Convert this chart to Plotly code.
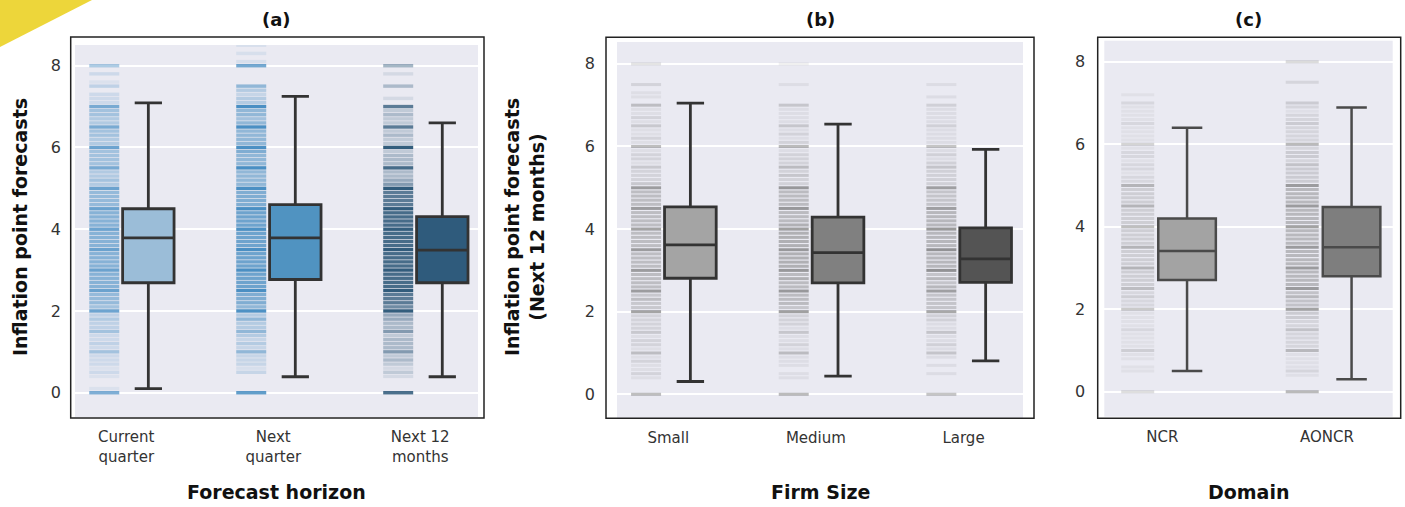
import plotly.graph_objects as go

W, H = 1405, 507

# ---------------- data ----------------
HORIZONS = ["Current<br>quarter", "Next<br>quarter", "Next 12<br>months"]
SIZES = ["Small", "Medium", "Large"]
DOMAINS = ["NCR", "AONCR"]
Y_TICKS = [0, 2, 4, 6, 8]

# box statistics
H_LOWER = [0.10, 0.39, 0.39]
H_Q1 = [2.69, 2.77, 2.69]
H_MED = [3.79, 3.79, 3.49]
H_Q3 = [4.50, 4.60, 4.31]
H_UPPER = [7.09, 7.25, 6.60]

S_LOWER = [0.31, 0.44, 0.81]
S_Q1 = [2.81, 2.70, 2.71]
S_MED = [3.62, 3.43, 3.28]
S_Q3 = [4.54, 4.29, 4.03]
S_UPPER = [7.05, 6.54, 5.93]

D_LOWER = [0.50, 0.30]
D_Q1 = [2.71, 2.80]
D_MED = [3.41, 3.50]
D_Q3 = [4.20, 4.48]
D_UPPER = [6.40, 6.89]

# forecast levels (percent) and how densely each level is populated (0-9)
LEVELS = [
    0.0, 0.1, 0.2, 0.3, 0.4, 0.5, 0.6, 0.7, 0.8, 0.9,
    1.0, 1.1, 1.2, 1.3, 1.4, 1.5, 1.6, 1.7, 1.8, 1.9,
    2.0, 2.1, 2.2, 2.3, 2.4, 2.5, 2.6, 2.7, 2.8, 2.9,
    3.0, 3.1, 3.2, 3.3, 3.4, 3.5, 3.6, 3.7, 3.8, 3.9,
    4.0, 4.1, 4.2, 4.3, 4.4, 4.5, 4.6, 4.7, 4.8, 4.9,
    5.0, 5.1, 5.2, 5.3, 5.4, 5.5, 5.6, 5.7, 5.8, 5.9,
    6.0, 6.1, 6.2, 6.3, 6.4, 6.5, 6.6, 6.7, 6.8, 6.9,
    7.0, 7.1, 7.2, 7.3, 7.4, 7.5, 7.6, 7.7, 7.8, 7.9,
    8.0, 8.1, 8.2, 8.3, 8.4, 8.5,
]
DENS_CUR = [
    8, 1, 0, 0, 1, 2, 1, 2, 2, 2,
    5, 2, 3, 2, 2, 5, 3, 3, 4, 3,
    9, 5, 6, 6, 6, 9, 7, 7, 7, 7,
    9, 7, 7, 7, 7, 9, 7, 7, 7, 7,
    9, 7, 7, 7, 7, 9, 6, 6, 6, 6,
    9, 4, 5, 4, 4, 8, 5, 5, 5, 5,
    9, 4, 4, 5, 5, 8, 4, 4, 5, 5,
    8, 2, 2, 2, 0, 3, 1, 0, 2, 0,
    5, 0, 0, 0, 0, 0,
]
DENS_NXQ = [
    8, 0, 0, 0, 0, 2, 1, 2, 2, 2,
    5, 2, 3, 2, 3, 5, 3, 3, 5, 3,
    9, 5, 6, 6, 6, 9, 7, 7, 7, 7,
    9, 7, 7, 7, 7, 9, 7, 7, 7, 7,
    9, 7, 7, 7, 7, 9, 6, 6, 6, 6,
    9, 5, 5, 5, 5, 9, 5, 5, 5, 6,
    9, 5, 5, 5, 5, 9, 5, 4, 5, 5,
    9, 3, 3, 2, 3, 5, 0, 0, 0, 0,
    7, 1, 0, 1, 0, 1,
]
DENS_N12 = [
    8, 0, 0, 0, 1, 2, 1, 2, 3, 2,
    5, 3, 3, 3, 2, 5, 3, 3, 4, 4,
    9, 6, 7, 7, 7, 9, 8, 8, 8, 8,
    9, 8, 8, 8, 8, 9, 8, 8, 8, 8,
    9, 8, 8, 8, 8, 9, 7, 7, 7, 7,
    9, 5, 4, 3, 3, 8, 3, 3, 3, 2,
    9, 2, 2, 3, 2, 7, 2, 2, 3, 2,
    7, 0, 1, 0, 0, 3, 0, 0, 1, 0,
    4, 0, 0, 0, 0, 0,
]
DENS_SMALL = [
    5, 0, 0, 0, 1, 2, 1, 1, 2, 1,
    4, 1, 2, 2, 1, 3, 2, 2, 2, 2,
    7, 3, 3, 4, 3, 7, 4, 4, 4, 4,
    7, 4, 4, 4, 4, 7, 4, 4, 4, 4,
    7, 4, 4, 4, 4, 7, 4, 4, 4, 4,
    7, 3, 2, 2, 2, 3, 1, 2, 2, 1,
    5, 1, 2, 1, 1, 3, 1, 2, 1, 1,
    4, 0, 1, 1, 0, 2, 0, 0, 0, 0,
    2, 0, 0, 0, 0, 0,
]
DENS_MEDIUM = [
    5, 0, 0, 0, 1, 1, 0, 1, 1, 1,
    4, 1, 2, 1, 1, 3, 1, 2, 2, 2,
    7, 3, 4, 4, 4, 7, 4, 4, 5, 4,
    7, 5, 5, 5, 5, 7, 5, 5, 5, 5,
    7, 5, 4, 4, 4, 7, 4, 4, 4, 4,
    7, 2, 2, 3, 2, 4, 2, 2, 2, 1,
    5, 2, 1, 2, 1, 3, 1, 1, 1, 1,
    3, 0, 0, 0, 0, 1, 0, 0, 0, 0,
    1, 0, 0, 0, 0, 0,
]
DENS_LARGE = [
    4, 0, 0, 0, 0, 1, 0, 1, 0, 1,
    3, 1, 2, 1, 1, 3, 1, 1, 2, 2,
    6, 3, 3, 3, 3, 6, 4, 3, 4, 3,
    7, 4, 4, 4, 4, 7, 4, 4, 4, 4,
    7, 4, 4, 4, 4, 6, 3, 3, 3, 3,
    6, 2, 2, 2, 2, 3, 2, 1, 2, 1,
    4, 1, 1, 1, 1, 2, 1, 1, 1, 1,
    2, 0, 1, 0, 0, 1, 0, 0, 0, 0,
    0, 0, 0, 0, 0, 0,
]
DENS_NCR = [
    3, 0, 0, 0, 0, 1, 1, 0, 1, 1,
    3, 1, 1, 1, 1, 2, 1, 1, 1, 1,
    5, 2, 2, 3, 2, 5, 3, 3, 3, 3,
    6, 3, 3, 3, 3, 6, 3, 3, 3, 3,
    6, 3, 3, 3, 3, 6, 3, 3, 3, 3,
    6, 2, 2, 1, 2, 2, 1, 2, 2, 1,
    4, 1, 1, 1, 1, 2, 1, 1, 1, 1,
    2, 0, 1, 0, 0, 0, 0, 0, 0, 0,
    0, 0, 0, 0, 0, 0,
]
DENS_AONCR = [
    6, 0, 0, 0, 1, 2, 1, 1, 1, 1,
    5, 2, 2, 2, 2, 4, 2, 2, 3, 3,
    8, 4, 4, 5, 4, 8, 5, 5, 5, 5,
    8, 5, 5, 5, 5, 8, 5, 5, 5, 5,
    8, 5, 5, 5, 5, 8, 5, 5, 5, 5,
    8, 3, 3, 3, 3, 4, 2, 3, 3, 2,
    6, 2, 2, 2, 2, 3, 2, 2, 1, 2,
    3, 0, 0, 0, 0, 2, 0, 0, 0, 0,
    3, 0, 0, 0, 0, 0,
]

# ---------------- style ----------------
FONT = "DejaVu Sans"
BG = "#EAEAF2"
STRIP_OFF = -0.15
BOX_OFF = 0.15
BOX_W = 0.35
LINE_EW_SCALE = 1.4  # plotly's line-ew symbol is 1.4 x marker size long

PANELS = [
    dict(cats=HORIZONS, lower=H_LOWER, q1=H_Q1, med=H_MED, q3=H_Q3, upper=H_UPPER,
         dens=[DENS_CUR, DENS_NXQ, DENS_N12],
         box_colors=["#9BBDD8", "#5093C1", "#2F5B7C"],
         strip_colors=["#5E9BCB", "#3A86BE", "#1F4D70"],
         strip_alpha=0.9, strip_w=30, strip_lw=3.4, edge="#333333", lw=2.8,
         px=(75, 478), py=(45, 417), yr=(-0.594, 8.506), xr=(-0.349, 2.393),
         standoff=13, title="(a)", xtitle="Forecast horizon"),
    dict(cats=SIZES, lower=S_LOWER, q1=S_Q1, med=S_MED, q3=S_Q3, upper=S_UPPER,
         dens=[DENS_SMALL, DENS_MEDIUM, DENS_LARGE],
         box_colors=["#A4A4A4", "#808080", "#545454"],
         strip_colors=["#6E6E6E", "#686868", "#5E5E5E"],
         strip_alpha=0.8, strip_w=30, strip_lw=3.0, edge="#333333", lw=2.8,
         px=(617, 1023), py=(42, 418), yr=(-0.574, 8.53), xr=(-0.347, 2.403),
         standoff=21, title="(b)", xtitle="Firm Size"),
    dict(cats=DOMAINS, lower=D_LOWER, q1=D_Q1, med=D_MED, q3=D_Q3, upper=D_UPPER,
         dens=[DENS_NCR, DENS_AONCR],
         box_colors=["#A3A3A3", "#7E7E7E"],
         strip_colors=["#787878", "#6C6C6C"],
         strip_alpha=0.7, strip_w=33, strip_lw=3.0, edge="#4A4A4A", lw=2.5,
         px=(1104.3, 1392.7), py=(40.7, 416.7), yr=(-0.606, 8.51), xr=(-0.353, 1.40),
         standoff=18, title="(c)", xtitle="Domain"),
]
FRAMES = [(70.7, 484, 37, 418), (606, 1034, 37.3, 418.3), (1097.7, 1400.7, 37.3, 418.3)]


def fx(px):
    return px / W


def fy(py):
    return (H - py) / H


fig = go.Figure()
layout = dict(
    width=W, height=H, margin=dict(l=0, r=0, t=0, b=0),
    paper_bgcolor="white", plot_bgcolor=BG, showlegend=False,
    font=dict(family=FONT, color="#333333"),
)
annotations = []
shapes = []

for k, p in enumerate(PANELS):
    sfx = "" if k == 0 else str(k + 1)
    xa, ya = "x" + sfx, "y" + sfx
    n = len(p["cats"])
    for i in range(n):
        # strip of individual forecasts
        dens = p["dens"][i]
        keep = [j for j, d in enumerate(dens) if d > 0]
        fig.add_trace(go.Scatter(
            x=[i + STRIP_OFF] * len(keep),
            y=[LEVELS[j] for j in keep],
            mode="markers", xaxis=xa, yaxis=ya, hoverinfo="skip",
            marker=dict(symbol="line-ew", size=p["strip_w"] / LINE_EW_SCALE,
                        opacity=[dens[j] / 9 * p["strip_alpha"] for j in keep],
                        line=dict(color=p["strip_colors"][i], width=p["strip_lw"])),
        ))
        # box
        fig.add_trace(go.Box(
            x=[i + BOX_OFF], q1=[p["q1"][i]], median=[p["med"][i]], q3=[p["q3"][i]],
            lowerfence=[p["lower"][i]], upperfence=[p["upper"][i]],
            width=BOX_W, whiskerwidth=0.53, boxpoints=False,
            fillcolor=p["box_colors"][i],
            line=dict(color=p["edge"], width=p["lw"]),
            xaxis=xa, yaxis=ya, hoverinfo="skip",
        ))
    layout["xaxis" + sfx] = dict(
        domain=[fx(p["px"][0]), fx(p["px"][1])], range=list(p["xr"]),
        tickvals=list(range(n)), ticktext=p["cats"], showgrid=False, zeroline=False,
        showline=False, ticks="", tickfont=dict(size=15, family=FONT, color="#333333"),
        ticklabelstandoff=9, anchor=ya, fixedrange=True,
    )
    layout["yaxis" + sfx] = dict(
        domain=[fy(p["py"][1]), fy(p["py"][0])], range=list(p["yr"]),
        tickvals=Y_TICKS, showgrid=True, gridcolor="white", gridwidth=1.6,
        zeroline=False, showline=False, ticks="",
        tickfont=dict(size=16, family=FONT, color="#333333"),
        ticklabelstandoff=p["standoff"], anchor=xa, fixedrange=True,
    )
    x0, x1, y0, y1 = FRAMES[k]
    shapes.append(dict(type="rect", xref="paper", yref="paper",
                       x0=fx(x0), x1=fx(x1), y0=fy(y1), y1=fy(y0),
                       line=dict(color="#222222", width=1.5), layer="below"))
    cx = (p["px"][0] + p["px"][1]) / 2
    annotations.append(dict(text="<b>%s</b>" % p["title"], x=fx(cx), y=fy(20),
                            xref="paper", yref="paper", showarrow=False,
                            xanchor="center", yanchor="middle",
                            font=dict(size=18, family=FONT, color="#111111")))
    annotations.append(dict(text="<b>%s</b>" % p["xtitle"], x=fx(cx), y=fy(492),
                            xref="paper", yref="paper", showarrow=False,
                            xanchor="center", yanchor="middle",
                            font=dict(size=19, family=FONT, color="#111111")))

annotations.append(dict(text="<b>Inflation point forecasts</b>", x=fx(20), y=fy(227),
                        xref="paper", yref="paper", showarrow=False, textangle=-90,
                        xanchor="center", yanchor="middle",
                        font=dict(size=19, family=FONT, color="#111111")))
annotations.append(dict(text="<b>Inflation point forecasts<br>(Next 12 months)</b>",
                        x=fx(525), y=fy(227), xref="paper", yref="paper",
                        showarrow=False, textangle=-90,
                        xanchor="center", yanchor="middle",
                        font=dict(size=19, family=FONT, color="#111111")))

# yellow corner decoration
shapes.append(dict(type="path", xref="paper", yref="paper",
                   path="M 0 1 L %f 1 L 0 %f Z" % (fx(92), fy(47)),
                   fillcolor="#EDD63A", line=dict(width=0), layer="above"))

layout["annotations"] = annotations
layout["shapes"] = shapes
fig.update_layout(**layout)
fig.write_html("out.html", config={"displayModeBar": False},
               post_script="document.body.style.margin='0px';")
